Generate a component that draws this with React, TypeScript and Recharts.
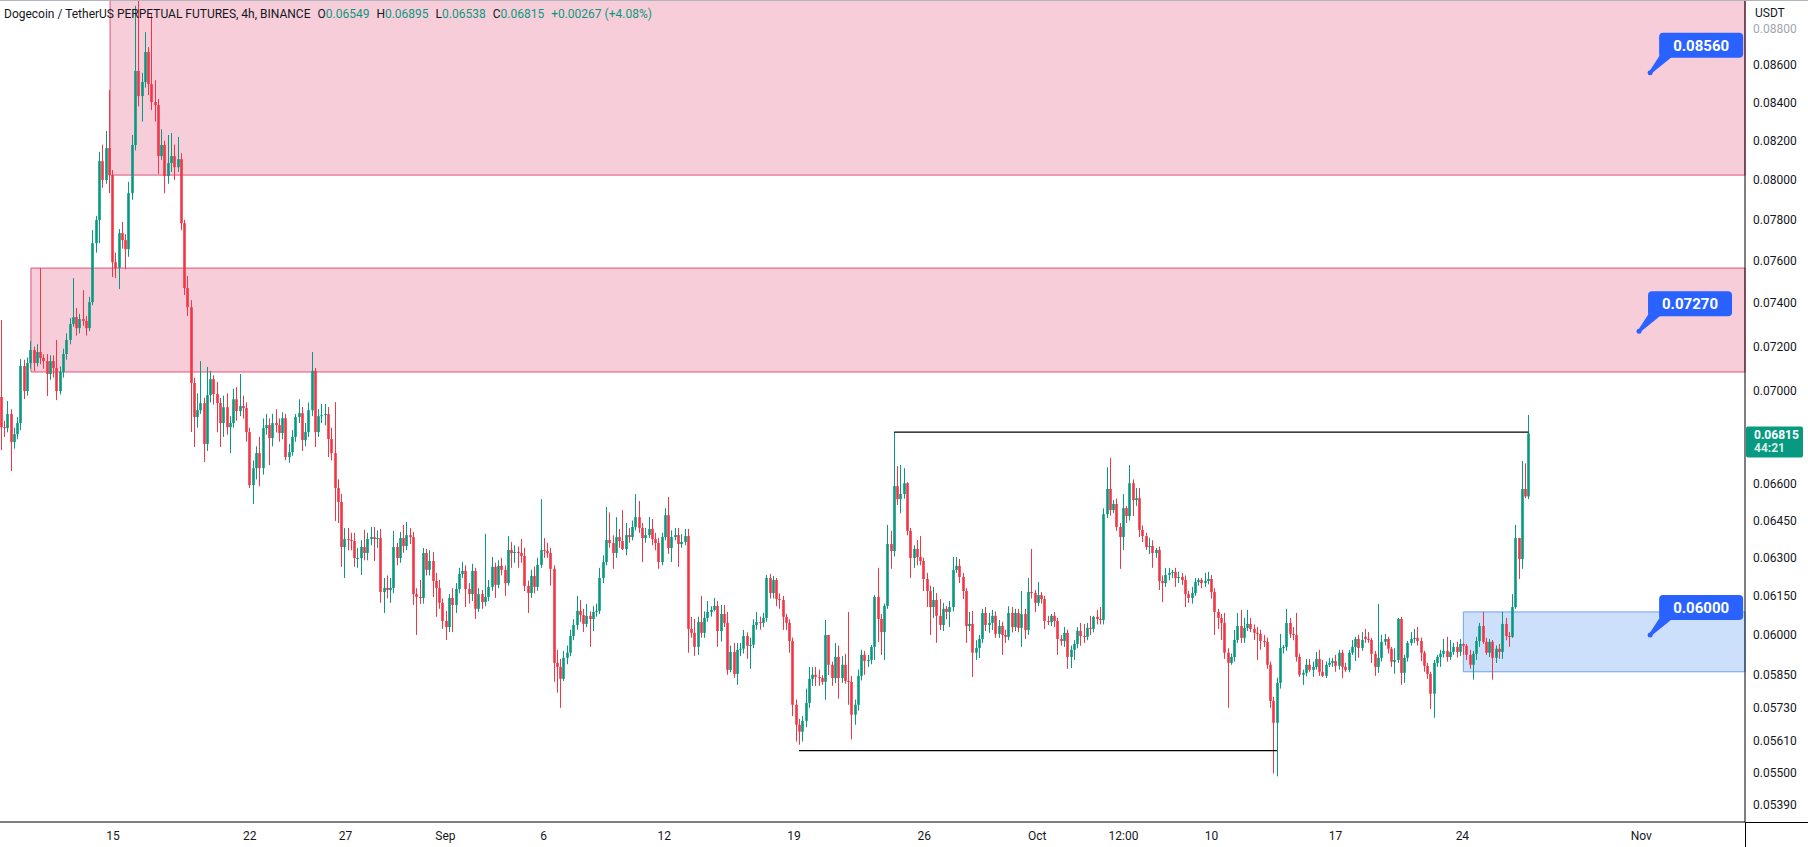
import {
  Bar,
  ComposedChart,
  ReferenceArea,
  ReferenceDot,
  ReferenceLine,
  XAxis,
  YAxis,
} from 'recharts'

// 4h candles, prices in 1e-5 USDT
const OPEN = [
  6974, 6842, 6838, 6899, 6778, 6812, 6860, 7112, 7000, 7125,
  7184, 7125, 7175, 7148, 7134, 7076, 7134, 7103, 7000, 7085,
  7166, 7230, 7303, 7335, 7284, 7326, 7317, 7284, 7405, 7686,
  7799, 8095, 7999, 8162, 8024, 7594, 7566, 7735, 7701, 7657,
  7933, 8178, 8570, 8435, 8510, 8673, 8499, 8403, 8387, 8121,
  8178, 8019, 8085, 8121, 8064, 8105, 7784, 7471, 7381, 7036,
  6886, 6916, 6947, 6770, 6982, 7053, 6987, 6947, 6860, 6929,
  6842, 6860, 6964, 6912, 6934, 6925, 6821, 6596, 6667, 6731,
  6667, 6838, 6851, 6795, 6860, 6851, 6817, 6881, 6714, 6735,
  6800, 6886, 6903, 6787, 6821, 6916, 7090, 6821, 6890, 6894,
  6899, 6791, 6731, 6584, 6526, 6343, 6375, 6371, 6367, 6299,
  6299, 6343, 6319, 6375, 6383, 6375, 6379, 6165, 6181, 6173,
  6181, 6343, 6299, 6379, 6347, 6391, 6383, 6157, 6146, 6142,
  6319, 6252, 6287, 6208, 6181, 6123, 6053, 6030, 6142, 6115,
  6177, 6236, 6248, 6177, 6157, 6248, 6100, 6157, 6126, 6146,
  6185, 6264, 6193, 6268, 6252, 6200, 6331, 6319, 6323, 6319,
  6307, 6189, 6161, 6228, 6185, 6272, 6331, 6327, 6319, 6256,
  5895, 5880, 5836, 5914, 5933, 5996, 6038, 6092, 6076, 6042,
  6073, 6061, 6088, 6092, 6220, 6283, 6371, 6359, 6319, 6383,
  6367, 6335, 6391, 6383, 6424, 6464, 6420, 6379, 6391, 6416,
  6375, 6359, 6283, 6383, 6472, 6339, 6383, 6391, 6355, 6363,
  6387, 6023, 6008, 5955, 6049, 6008, 6065, 6088, 6096, 6111,
  6015, 6080, 6046, 5869, 5936, 5854, 5944, 5948, 5996, 5959,
  5963, 6038, 6049, 6046, 6065, 6220, 6161, 6212, 6138, 6134,
  6069, 6046, 5977, 5741, 5669, 5644, 5683, 5748, 5836, 5851,
  5843, 5839, 5825, 6000, 5888, 5839, 5917, 5839, 5888, 5828,
  5825, 5705, 5741, 5847, 5925, 5902, 5906, 5955, 6146, 6061,
  6011, 6111, 6355, 6327, 6592, 6538, 6559, 6604, 6408, 6299,
  6335, 6303, 6287, 6216, 6169, 6107, 6134, 6073, 6038, 6100,
  6088, 6107, 6252, 6268, 6224, 6169, 6034, 6042, 5933, 5951,
  5985, 6084, 6038, 6046, 6073, 6004, 6034, 6000, 5993, 6084,
  6030, 6084, 6027, 6080, 6019, 6165, 6161, 6123, 6153, 6138,
  6053, 6049, 6073, 6053, 5985, 5977, 6008, 5917, 5944, 5966,
  6015, 5996, 5993, 6027, 6023, 6069, 6061, 6057, 6476, 6580,
  6493, 6518, 6424, 6383, 6501, 6468, 6604, 6534, 6542, 6412,
  6387, 6343, 6347, 6319, 6331, 6208, 6200, 6232, 6240, 6244,
  6220, 6224, 6212, 6157, 6142, 6161, 6204, 6212, 6200, 6208,
  6216, 6165, 6088, 6065, 6046, 5933, 5895, 5917, 5981, 6034,
  5989, 6027, 6042, 6023, 6008, 6004, 5977, 5974, 5888, 5755,
  5676, 5821, 5951, 5955, 6046, 6004, 6000, 5917, 5851, 5858,
  5888, 5869, 5880, 5910, 5862, 5847, 5888, 5895, 5902, 5884,
  5933, 5880, 5869, 5933, 5955, 5985, 5951, 5993, 5985, 5981,
  5929, 5880, 5914, 5974, 5985, 5948, 5899, 5906, 6061, 5858,
  5914, 5970, 5985, 5989, 5977, 5933, 5884, 5854, 5781, 5895,
  5917, 5929, 5940, 5917, 5936, 5955, 5936, 5966, 5959, 5925,
  5888, 5929, 5977, 6034, 5974, 5933, 5974, 5914, 5948, 5936,
  6042, 5996, 5993, 6107, 6379, 6295, 6580, 6549,
]

const HIGH = [
  7321, 6870, 6956, 6920, 6840, 6885, 7143, 7140, 7150, 7225,
  7200, 7210, 7566, 7165, 7166, 7160, 7160, 7230, 7110, 7190,
  7260, 7330, 7518, 7377, 7350, 7461, 7340, 7430, 7750, 7820,
  8142, 8180, 8251, 8467, 8050, 7640, 7755, 7790, 7730, 7990,
  8230, 8930, 8960, 8560, 8783, 8700, 8887, 8520, 8420, 8260,
  8200, 8230, 8240, 8180, 8220, 8136, 7800, 7528, 7414, 7060,
  6990, 7134, 6970, 7108, 7090, 7070, 7040, 6970, 6980, 6990,
  6890, 7010, 7018, 7076, 6980, 6950, 6840, 6700, 6760, 6800,
  6880, 6899, 6880, 6900, 6920, 6880, 6907, 6900, 6770, 6830,
  6899, 6964, 6930, 6860, 6950, 7175, 7103, 6920, 6943, 6943,
  6930, 6840, 6951, 6620, 6560, 6420, 6420, 6400, 6400, 6340,
  6370, 6412, 6400, 6424, 6424, 6410, 6416, 6220, 6230, 6220,
  6408, 6360, 6404, 6432, 6444, 6420, 6404, 6180, 6212, 6339,
  6335, 6330, 6323, 6240, 6212, 6140, 6092, 6157, 6180, 6200,
  6260, 6283, 6270, 6200, 6276, 6260, 6180, 6173, 6396, 6212,
  6303, 6280, 6290, 6300, 6270, 6387, 6363, 6350, 6345, 6375,
  6340, 6210, 6252, 6265, 6300, 6538, 6379, 6360, 6340, 6270,
  5944, 5910, 5940, 5960, 6020, 6060, 6150, 6134, 6100, 6119,
  6090, 6110, 6120, 6260, 6310, 6505, 6483, 6390, 6464, 6416,
  6493, 6440, 6420, 6450, 6559, 6530, 6440, 6420, 6464, 6456,
  6400, 6380, 6400, 6500, 6547, 6410, 6420, 6420, 6395, 6416,
  6416, 6069, 6061, 6070, 6150, 6090, 6130, 6110, 6142, 6130,
  6115, 6115, 6088, 5960, 5970, 5970, 5970, 6019, 6010, 5990,
  6060, 6088, 6070, 6084, 6232, 6236, 6228, 6220, 6160, 6150,
  6080, 6060, 5990, 5760, 5690, 5700, 5800, 5880, 5880, 5880,
  5870, 5850, 6057, 6000, 5900, 5970, 5960, 5921, 5929, 6088,
  5847, 5760, 5870, 5944, 5940, 5925, 5962, 6153, 6260, 6080,
  6120, 6432, 6408, 6821, 6676, 6680, 6667, 6608, 6420, 6350,
  6371, 6387, 6300, 6240, 6190, 6185, 6161, 6138, 6123, 6111,
  6130, 6303, 6303, 6295, 6240, 6180, 6088, 6092, 5980, 6000,
  6100, 6107, 6084, 6096, 6090, 6057, 6050, 6020, 6110, 6107,
  6100, 6100, 6169, 6100, 6220, 6335, 6173, 6204, 6165, 6150,
  6073, 6080, 6088, 6065, 6000, 6030, 6020, 5960, 5980, 6030,
  6046, 6042, 6046, 6073, 6073, 6096, 6107, 6500, 6671, 6710,
  6534, 6540, 6440, 6559, 6510, 6680, 6620, 6584, 6584, 6430,
  6400, 6380, 6370, 6339, 6345, 6230, 6260, 6260, 6252, 6260,
  6245, 6240, 6230, 6170, 6185, 6220, 6220, 6220, 6240, 6244,
  6232, 6180, 6100, 6080, 6084, 5950, 5930, 6019, 6084, 6096,
  6065, 6096, 6065, 6040, 6030, 6020, 6000, 5990, 5900, 5770,
  5840, 6004, 5962, 6100, 6065, 6030, 6084, 5930, 5870, 5910,
  5910, 5900, 5936, 5944, 5906, 5900, 5914, 5914, 5925, 5944,
  5944, 5895, 5944, 5981, 5993, 6000, 6011, 6023, 6011, 5989,
  5940, 6119, 6000, 6004, 5993, 5955, 5950, 6065, 6069, 5925,
  5977, 6011, 6023, 6030, 5990, 5940, 5895, 5862, 5906, 5925,
  5944, 5985, 5993, 5981, 5970, 5974, 5985, 5970, 5966, 5944,
  5940, 5993, 6046, 6088, 5989, 5985, 5981, 5960, 5966, 6088,
  6065, 6011, 6157, 6432, 6380, 6697, 6688, 6895,
]

const LOW = [
  6744, 6800, 6820, 6655, 6750, 6790, 6829, 6965, 6980, 7100,
  7090, 7110, 7120, 7100, 6978, 7050, 7060, 6960, 6985, 7060,
  7140, 7210, 7290, 7250, 7260, 7295, 7250, 7270, 7390, 7640,
  7686, 7960, 7980, 7933, 7523, 7518, 7466, 7660, 7560, 7620,
  7900, 8150, 8380, 8300, 8480, 8440, 8360, 8300, 8030, 8100,
  7933, 7980, 8040, 8000, 8040, 7750, 7438, 7340, 6821, 6757,
  6840, 6900, 6693, 6740, 6950, 6940, 6820, 6757, 6800, 6810,
  6731, 6840, 6870, 6890, 6880, 6780, 6584, 6518, 6620, 6592,
  6640, 6810, 6680, 6760, 6820, 6780, 6790, 6701, 6690, 6720,
  6780, 6860, 6740, 6760, 6800, 6890, 6757, 6800, 6860, 6850,
  6714, 6700, 6448, 6440, 6264, 6220, 6330, 6330, 6264, 6260,
  6232, 6290, 6290, 6350, 6287, 6340, 6123, 6084, 6140, 6123,
  6160, 6270, 6280, 6320, 6330, 6355, 6115, 6000, 6119, 6120,
  6230, 6230, 6146, 6069, 6100, 6023, 5981, 6011, 6011, 6084,
  6160, 6220, 6107, 6120, 6130, 6061, 6088, 6100, 6110, 6130,
  6170, 6142, 6180, 6230, 6150, 6190, 6260, 6280, 6260, 6280,
  6169, 6084, 6142, 6160, 6170, 6260, 6300, 6300, 6190, 5825,
  5785, 5730, 5828, 5890, 5920, 5980, 6020, 6050, 6011, 6030,
  5955, 6015, 6070, 6080, 6200, 6270, 6340, 6256, 6300, 6340,
  6331, 6310, 6360, 6370, 6410, 6400, 6283, 6360, 6380, 6350,
  6330, 6256, 6270, 6370, 6315, 6283, 6370, 6264, 6340, 6350,
  5933, 5990, 5921, 5925, 5990, 5989, 6050, 6070, 6090, 5955,
  5975, 6030, 5851, 5860, 5840, 5814, 5920, 5930, 5910, 5873,
  5950, 6020, 6020, 6030, 6050, 6140, 6140, 6110, 6100, 6019,
  6019, 5933, 5700, 5609, 5598, 5609, 5660, 5730, 5810, 5810,
  5810, 5814, 5759, 5850, 5810, 5820, 5763, 5821, 5818, 5741,
  5616, 5669, 5720, 5830, 5851, 5880, 5890, 5906, 5974, 5925,
  5906, 6100, 6256, 6305, 6514, 6480, 6540, 6390, 6220, 6260,
  6270, 6270, 6169, 6107, 6000, 6065, 5970, 6019, 6015, 6060,
  6030, 6090, 6240, 6200, 6138, 5970, 6015, 5843, 5906, 5913,
  5970, 6015, 6008, 6019, 5989, 5989, 5925, 5970, 5980, 6010,
  6015, 6010, 5955, 5985, 6000, 6140, 6088, 6110, 6120, 6023,
  6038, 6034, 6030, 5925, 5960, 5955, 5873, 5876, 5906, 5950,
  5959, 5970, 5980, 6000, 6010, 6040, 6040, 6040, 6460, 6470,
  6480, 6408, 6256, 6331, 6440, 6450, 6468, 6510, 6383, 6363,
  6331, 6315, 6260, 6300, 6173, 6126, 6185, 6210, 6220, 6185,
  6200, 6193, 6107, 6123, 6120, 6150, 6190, 6180, 6185, 6195,
  6140, 6000, 6023, 5981, 5910, 5730, 5888, 5900, 5970, 5970,
  5970, 6015, 6011, 5981, 5906, 5944, 5955, 5873, 5730, 5497,
  5487, 5800, 5930, 5940, 5989, 5980, 5900, 5843, 5814, 5845,
  5862, 5843, 5870, 5847, 5843, 5839, 5880, 5880, 5862, 5870,
  5839, 5862, 5860, 5925, 5902, 5914, 5940, 5970, 5970, 5895,
  5847, 5858, 5900, 5960, 5930, 5880, 5855, 5895, 5814, 5821,
  5900, 5960, 5970, 5960, 5902, 5862, 5836, 5726, 5694, 5880,
  5880, 5915, 5900, 5906, 5925, 5915, 5920, 5925, 5906, 5873,
  5833, 5906, 5955, 5966, 5925, 5917, 5833, 5895, 5910, 5910,
  5980, 5955, 5989, 6100, 6216, 6256, 6542, 6538,
]

const CLOSE = [
  6842, 6838, 6899, 6778, 6812, 6860, 7112, 7000, 7125, 7184,
  7125, 7175, 7148, 7134, 7076, 7134, 7103, 7000, 7085, 7166,
  7230, 7303, 7335, 7284, 7326, 7317, 7284, 7405, 7686, 7799,
  8095, 7999, 8162, 8024, 7594, 7566, 7735, 7701, 7657, 7933,
  8178, 8570, 8435, 8510, 8673, 8499, 8403, 8387, 8121, 8178,
  8019, 8085, 8121, 8064, 8105, 7784, 7471, 7381, 7036, 6886,
  6916, 6947, 6770, 6982, 7053, 6987, 6947, 6860, 6929, 6842,
  6860, 6964, 6912, 6934, 6925, 6821, 6596, 6667, 6731, 6667,
  6838, 6851, 6795, 6860, 6851, 6817, 6881, 6714, 6735, 6800,
  6886, 6903, 6787, 6821, 6916, 7090, 6821, 6890, 6894, 6899,
  6791, 6731, 6584, 6526, 6343, 6375, 6371, 6367, 6299, 6299,
  6343, 6319, 6375, 6383, 6375, 6379, 6165, 6181, 6173, 6181,
  6343, 6299, 6379, 6347, 6391, 6383, 6157, 6146, 6142, 6319,
  6252, 6287, 6208, 6181, 6123, 6053, 6030, 6142, 6115, 6177,
  6236, 6248, 6177, 6157, 6248, 6100, 6157, 6126, 6146, 6185,
  6264, 6193, 6268, 6252, 6200, 6331, 6319, 6323, 6319, 6307,
  6189, 6161, 6228, 6185, 6272, 6331, 6327, 6319, 6256, 5895,
  5880, 5836, 5914, 5933, 5996, 6038, 6092, 6076, 6042, 6073,
  6061, 6088, 6092, 6220, 6283, 6371, 6359, 6319, 6383, 6367,
  6335, 6391, 6383, 6424, 6464, 6420, 6379, 6391, 6416, 6375,
  6359, 6283, 6383, 6472, 6339, 6383, 6391, 6355, 6363, 6387,
  6023, 6008, 5955, 6049, 6008, 6065, 6088, 6096, 6111, 6015,
  6080, 6046, 5869, 5936, 5854, 5944, 5948, 5996, 5959, 5963,
  6038, 6049, 6046, 6065, 6220, 6161, 6212, 6138, 6134, 6069,
  6046, 5977, 5741, 5669, 5644, 5683, 5748, 5836, 5851, 5843,
  5839, 5825, 6000, 5888, 5839, 5917, 5839, 5888, 5828, 5825,
  5705, 5741, 5847, 5925, 5902, 5906, 5955, 6146, 6061, 6011,
  6111, 6355, 6327, 6592, 6538, 6559, 6604, 6408, 6299, 6335,
  6303, 6287, 6216, 6169, 6107, 6134, 6073, 6038, 6100, 6088,
  6107, 6252, 6268, 6224, 6169, 6034, 6042, 5933, 5951, 5985,
  6084, 6038, 6046, 6073, 6004, 6034, 6000, 5993, 6084, 6030,
  6084, 6027, 6080, 6019, 6165, 6161, 6123, 6153, 6138, 6053,
  6049, 6073, 6053, 5985, 5977, 6008, 5917, 5944, 5966, 6015,
  5996, 5993, 6027, 6023, 6069, 6061, 6057, 6476, 6580, 6493,
  6518, 6424, 6383, 6501, 6468, 6604, 6534, 6542, 6412, 6387,
  6343, 6347, 6319, 6331, 6208, 6200, 6232, 6240, 6244, 6220,
  6224, 6212, 6157, 6142, 6161, 6204, 6212, 6200, 6208, 6216,
  6165, 6088, 6065, 6046, 5933, 5895, 5917, 5981, 6034, 5989,
  6027, 6042, 6023, 6008, 6004, 5977, 5974, 5888, 5755, 5676,
  5821, 5951, 5955, 6046, 6004, 6000, 5917, 5851, 5858, 5888,
  5869, 5880, 5910, 5862, 5847, 5888, 5895, 5902, 5884, 5933,
  5880, 5869, 5933, 5955, 5985, 5951, 5981, 5985, 5981, 5929,
  5880, 5914, 5974, 5985, 5948, 5899, 5906, 6061, 5858, 5914,
  5970, 5985, 5989, 5977, 5933, 5884, 5854, 5781, 5895, 5917,
  5929, 5940, 5917, 5936, 5955, 5936, 5966, 5959, 5925, 5888,
  5929, 5977, 6034, 5974, 5933, 5974, 5914, 5948, 5936, 6042,
  5996, 5993, 6107, 6379, 6295, 6580, 6549, 6815,
]

const PRICE_TICKS = [
  0.0539, 0.055, 0.0561, 0.0573, 0.0585, 0.06, 0.0615, 0.063, 0.0645, 0.066,
  0.07, 0.072, 0.074, 0.076, 0.078, 0.08, 0.082, 0.084, 0.086, 0.088,
]

// time labels, placed on the candle index axis
const TIME_TICKS = [34.1, 75.9, 105.2, 135.7, 165.7, 202.6, 242.3, 282.1, 316.6, 343, 369.9, 407.8, 446.6, 501.3]
const TIME_LABELS = ['15', '22', '27', 'Sep', '6', '12', '19', '26', 'Oct', '12:00', '10', '17', '24', 'Nov']

// supply / demand zones: [fromIndex, lowPrice, highPrice]
const RED_ZONES = [
  [33.2, 0.08024, 0.08963],
  [9.0, 0.07085, 0.07566],
]
const BLUE_ZONE = [446.9, 0.05862, 0.06088]

// range lines: [fromIndex, toIndex, price]
const RANGE_LINES = [
  [272.9, 466.8, 0.06821],
  [243.8, 389.9, 0.05577],
]

const CALLOUT_PRICES = [0.0856, 0.0727, 0.06]
const CALLOUT_AT = [504, 500.6, 504]

const LAST_PRICE = 0.06815
const COUNTDOWN = '44:21'

const GREEN = '#089981'
const RED = '#f23645'
const BLUE = '#2962ff'
const FONT = 'Roboto, "Liberation Sans", Arial, sans-serif'

const X_MIN = -0.46
const X_MAX = 533
const Y_MIN = 0.05331
const Y_MAX = 0.08963

const rows = CLOSE.map((c, i) => ({
  i,
  o: OPEN[i] / 1e5,
  h: HIGH[i] / 1e5,
  l: LOW[i] / 1e5,
  c: c / 1e5,
  range: [LOW[i] / 1e5, HIGH[i] / 1e5],
}))

function Candle(props: any) {
  const { x, y, width, height, payload } = props
  if (!payload || x == null) return null
  const top = Math.min(y, y + height)
  const span = Math.abs(height)
  const lh = Math.log(payload.h)
  const ll = Math.log(payload.l)
  const at = (v: number) => (lh - ll > 0 ? top + (span * (lh - Math.log(v))) / (lh - ll) : top)
  const color = payload.c >= payload.o ? GREEN : RED
  const bTop = at(Math.max(payload.o, payload.c))
  const bBot = at(Math.min(payload.o, payload.c))
  const wx = Math.floor(x + width / 2) + 0.5
  return (
    <g>
      <line x1={wx} x2={wx} y1={top} y2={top + span} stroke={color} strokeWidth={1} />
      <rect x={wx - 1.3} y={bTop} width={2.6} height={Math.max(1, bBot - bTop)} fill={color} />
    </g>
  )
}

function Callout(props: any) {
  const { cx, cy, text } = props
  const bx = cx + 9
  const by = cy - 40
  return (
    <g>
      <path d={`M${cx - 1},${cy - 1} L${bx + 1},${by + 22} L${bx + 13},${by + 24} L${cx + 1},${cy + 1} Z`} fill={BLUE} />
      <circle cx={cx} cy={cy} r={2.5} fill={BLUE} />
      <rect x={bx} y={by} width={84} height={25} rx={4} fill={BLUE} />
      <text x={bx + 42} y={by + 18} textAnchor="middle" fill="#fff" fontSize={15} fontWeight={700} fontFamily={FONT}>
        {text}
      </text>
    </g>
  )
}

function PriceTag(props: any) {
  const { cx, cy } = props
  return (
    <g>
      <rect x={cx + 1} y={cy - 7} width={57} height={31} rx={2} fill={GREEN} />
      <text x={cx + 9} y={cy + 6} fill="#fff" fontSize={12} fontWeight={700} fontFamily={FONT}>
        {LAST_PRICE.toFixed(5)}
      </text>
      <text x={cx + 9} y={cy + 19} fill="#fff" fillOpacity={0.85} fontSize={12} fontWeight={700} fontFamily={FONT}>
        {COUNTDOWN}
      </text>
    </g>
  )
}

function PriceTick(props: any) {
  const { x, y, payload } = props
  const faded = payload.value >= 0.0879
  return (
    <text x={x} y={y} dy={4} textAnchor="start" fontSize={12} fontFamily={FONT} fill={faded ? '#a3a6af' : '#131722'}>
      {payload.value.toFixed(5)}
    </text>
  )
}

function TimeTick(props: any) {
  const { x, y, payload } = props
  const k = TIME_TICKS.indexOf(payload.value)
  return (
    <text x={x} y={y} dy={10} textAnchor="middle" fontSize={12} fontFamily={FONT} fill="#131722">
      {TIME_LABELS[k]}
    </text>
  )
}

const head = { color: '#131722' }
const val = { color: GREEN }

export default function App() {
  return (
    <div style={{ position: 'absolute', left: 0, top: 0, width: 1808, height: 847, background: '#fff', fontFamily: FONT }}>
      <ComposedChart width={1808} height={847} data={rows} margin={{ top: 0, right: 0, bottom: 0, left: 0 }}>
        {RED_ZONES.map(([x1, y1, y2], k) => (
          <ReferenceArea key={k} x1={x1} x2={X_MAX} y1={y1} y2={y2} fill="#f8cdda" fillOpacity={1} stroke="#e0527c" strokeWidth={1} />
        ))}
        <ReferenceArea x1={BLUE_ZONE[0]} x2={X_MAX} y1={BLUE_ZONE[1]} y2={BLUE_ZONE[2]} fill="#cde0fb" fillOpacity={1} stroke="#6fa2f4" strokeWidth={1} />
        <XAxis
          dataKey="i"
          type="number"
          domain={[X_MIN, X_MAX]}
          allowDataOverflow
          ticks={TIME_TICKS}
          interval={0}
          tickLine={false}
          axisLine={{ stroke: '#000' }}
          height={25}
          tick={<TimeTick />}
        />
        <YAxis
          orientation="right"
          scale="log"
          domain={[Y_MIN, Y_MAX]}
          allowDataOverflow
          ticks={PRICE_TICKS}
          interval={0}
          width={63}
          tickLine={false}
          axisLine={{ stroke: '#000' }}
          tick={<PriceTick />}
        />
        <Bar dataKey="range" barSize={3} shape={<Candle />} isAnimationActive={false} />
        {RANGE_LINES.map(([a, b, p], k) => (
          <ReferenceLine key={k} segment={[{ x: a, y: p }, { x: b, y: p }]} stroke="#000" strokeWidth={1.2} />
        ))}
        {CALLOUT_PRICES.map((p, k) => (
          <ReferenceDot key={k} x={CALLOUT_AT[k]} y={p} r={3} shape={(s: any) => <Callout {...s} text={p.toFixed(5)} />} />
        ))}
        <ReferenceDot x={X_MAX} y={LAST_PRICE} r={2} shape={(s: any) => <PriceTag {...s} />} />
      </ComposedChart>
      <div style={{ position: 'absolute', left: 0, top: 0, width: 1808, height: 1, background: '#b2b5be' }} />
      <div style={{ position: 'absolute', left: 1745, top: 822, width: 1, height: 25, background: '#000' }} />
      <div style={{ position: 'absolute', left: 1745, top: 822, width: 63, height: 1, background: '#000' }} />
      <div style={{ position: 'absolute', left: 1755, top: 6, fontSize: 12, color: '#131722' }}>USDT</div>
      <div style={{ position: 'absolute', left: 4, top: 7, fontSize: 12, whiteSpace: 'nowrap' }}>
        <span style={head}>Dogecoin / TetherUS PERPETUAL FUTURES, 4h, BINANCE</span>
        <span style={{ ...head, marginLeft: 7 }}>O</span>
        <span style={val}>0.06549</span>
        <span style={{ ...head, marginLeft: 7 }}>H</span>
        <span style={val}>0.06895</span>
        <span style={{ ...head, marginLeft: 7 }}>L</span>
        <span style={val}>0.06538</span>
        <span style={{ ...head, marginLeft: 7 }}>C</span>
        <span style={val}>0.06815</span>
        <span style={{ ...val, marginLeft: 7 }}>+0.00267 (+4.08%)</span>
      </div>
    </div>
  )
}
